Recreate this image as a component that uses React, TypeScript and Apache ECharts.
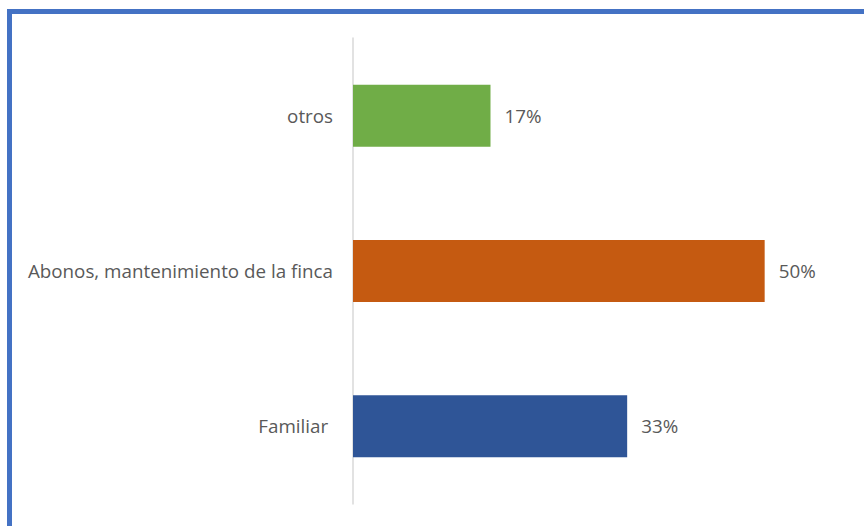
import React, { useEffect, useRef } from "react";
import * as echarts from "echarts";

const categories = ["Familiar ", "Abonos, mantenimiento de la finca", "otros"];
const values = [33.3, 50, 16.7];
const barColors = ["#2F5597", "#C55A11", "#70AD47"];

export default function App() {
  const ref = useRef<HTMLDivElement>(null);
  useEffect(() => {
    const chart = echarts.init(ref.current!, null, { renderer: "svg" });
    chart.setOption({
      animation: false,
      backgroundColor: "#ffffff",
      graphic: [
        {
          type: "rect",
          shape: { x: 9.5, y: 11.5, width: 900, height: 600 },
          style: { fill: "none", stroke: "#4472C4", lineWidth: 5 },
          silent: true,
        },
      ],
      grid: { left: 353, right: 17, top: 38, bottom: 22, containLabel: false },
      xAxis: {
        type: "value",
        min: 0,
        max: 60,
        axisLine: { show: false },
        axisTick: { show: false },
        axisLabel: { show: false },
        splitLine: { show: false },
      },
      yAxis: {
        type: "category",
        data: categories,
        axisLine: { show: true, lineStyle: { color: "#D9D9D9", width: 1.5 } },
        axisTick: { show: false },
        axisLabel: {
          margin: 20,
          color: "#595959",
          fontSize: 18.8,
          fontFamily: "Open Sans",
        },
      },
      series: [
        {
          type: "bar",
          barWidth: 62,
          data: values.map((v, i) => ({ value: v, itemStyle: { color: barColors[i] } })),
          label: {
            show: true,
            position: "right",
            distance: 14,
            color: "#595959",
            fontSize: 18.8,
            fontFamily: "Open Sans",
            formatter: (p: any) => Math.round(p.value) + "%",
          },
        },
      ],
    });
    return () => chart.dispose();
  }, []);
  return (
    <div
      ref={ref}
      style={{ position: "fixed", left: 0, top: 0, width: 864, height: 526 }}
    />
  );
}
